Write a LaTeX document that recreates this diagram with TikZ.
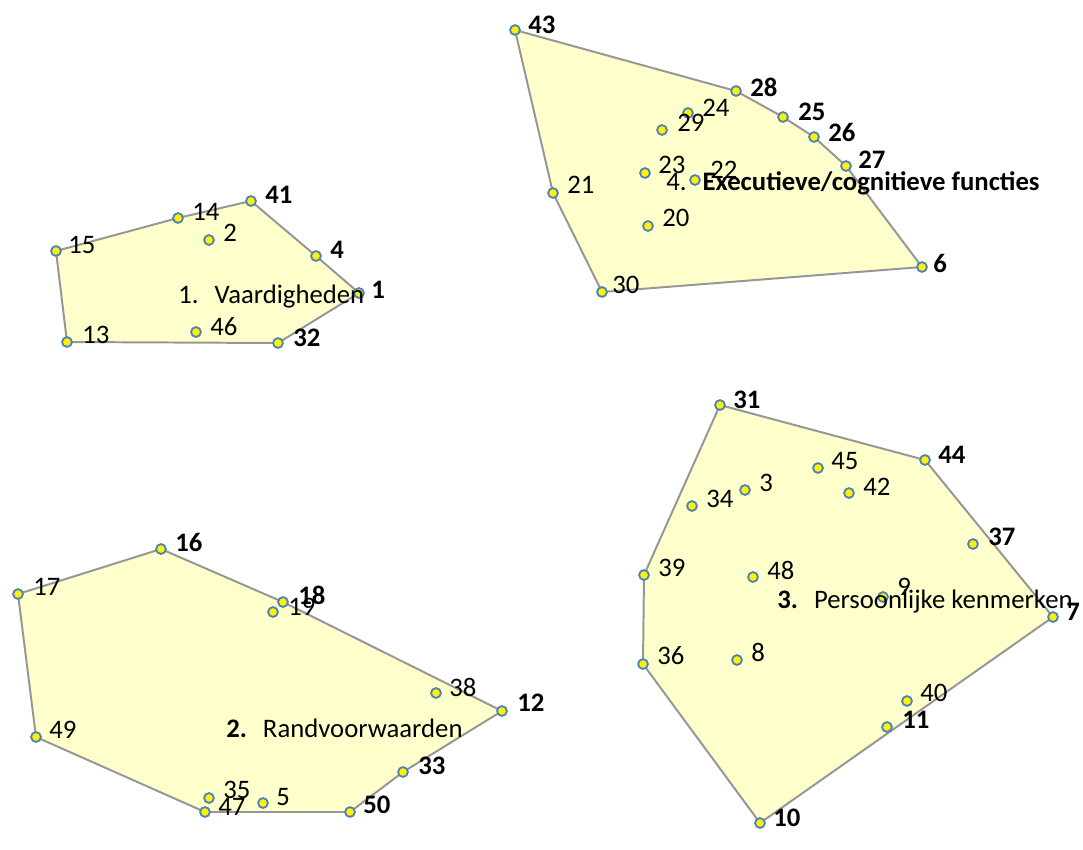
\documentclass[tikz,border=0pt]{standalone}
\usepackage{fontspec}
\setmainfont{Carlito}
\usepackage{tikz}
\usetikzlibrary{backgrounds}
\definecolor{dotblue}{RGB}{79,129,189}
\definecolor{areafill}{RGB}{255,255,204}
\definecolor{areaedge}{RGB}{150,150,150}

\begin{document}
\begin{tikzpicture}[x=0.025cm,y=-0.025cm,
                every node/.style={inner sep=0pt},
                pt/.style={circle,draw=dotblue,fill=yellow,line width=1.3pt,minimum size=7pt},
                num/.style={anchor=west,font=\fontsize{19}{21}\selectfont},
                numb/.style={num,font=\fontsize{19}{21}\selectfont\bfseries},
                title/.style={anchor=base west,font=\fontsize{19}{21}\selectfont},
                area/.style={draw=areaedge,fill=areafill,line width=1.4pt,line join=round}]
  \useasboundingbox (0,0) rectangle (1083,849);
  % 1. Vaardigheden
  \node[pt] (p15) at (56,251)  {};
  \node[pt] (p14) at (178,218) {};
  \node[pt] (p41) at (251,201) {};
  \node[pt] (p2)  at (209,240) {};
  \node[pt] (p4)  at (316,256) {};
  \node[pt] (p1)  at (359,293) {};
  \node[pt] (p32) at (278,343) {};
  \node[pt] (p13) at (67,342)  {};
  \node[pt] (p46) at (196,332) {};
  % 4. Executieve/cognitieve functies
  \node[pt] (p43) at (515,30)  {};
  \node[pt] (p28) at (736,91)  {};
  \node[pt] (p25) at (783,117) {};
  \node[pt] (p26) at (814,137) {};
  \node[pt] (p27) at (846,166) {};
  \node[pt] (p6)  at (922,267) {};
  \node[pt] (p30) at (602,292) {};
  \node[pt] (p21) at (553,193) {};
  \node[pt] (p24) at (688,113) {};
  \node[pt] (p29) at (662,130) {};
  \node[pt] (p23) at (645,173) {};
  \node[pt] (p22) at (695,180) {};
  \node[pt] (p20) at (648,226) {};
  % 2. Randvoorwaarden
  \node[pt] (p16) at (161,549) {};
  \node[pt] (p17) at (18,594)  {};
  \node[pt] (p49) at (36,737)  {};
  \node[pt] (p35) at (209,798) {};
  \node[pt] (p47) at (205,812) {};
  \node[pt] (p5)  at (263,803) {};
  \node[pt] (p50) at (350,812) {};
  \node[pt] (p33) at (403,772) {};
  \node[pt] (p12) at (502,711) {};
  \node[pt] (p38) at (436,693) {};
  \node[pt] (p18) at (283,602) {};
  \node[pt] (p19) at (273,612) {};
  % 3. Persoonlijke kenmerken
  \node[pt] (p31) at (720,405)  {};
  \node[pt] (p44) at (925,460)  {};
  \node[pt] (p37) at (973,544)  {};
  \node[pt] (p7)  at (1053,617) {};
  \node[pt] (p40) at (907,701)  {};
  \node[pt] (p11) at (887,727)  {};
  \node[pt] (p10) at (760,823)  {};
  \node[pt] (p36) at (643,664)  {};
  \node[pt] (p39) at (644,575)  {};
  \node[pt] (p34) at (692,506)  {};
  \node[pt] (p3)  at (745,490)  {};
  \node[pt] (p45) at (818,468)  {};
  \node[pt] (p42) at (849,493)  {};
  \node[pt] (p48) at (753,577)  {};
  \node[pt] (p8)  at (737,660)  {};
  \node[pt] (p9)  at (883,597)  {};

  \begin{pgfonlayer}{background}
    \draw[area] (p15.center) -- (p14.center) -- (p41.center) -- (p4.center) -- (p1.center)
                -- (p32.center) -- (p13.center) -- cycle;
    \draw[area] (p43.center) -- (p28.center) -- (p25.center) -- (p26.center) -- (p27.center)
                -- (p6.center) -- (p30.center) -- (p21.center) -- cycle;
    \draw[area] (p16.center) -- (p18.center) -- (p12.center) -- (p33.center) -- (p50.center)
                -- (p47.center) -- (p49.center) -- (p17.center) -- cycle;
    \draw[area] (p31.center) -- (p44.center) -- (p7.center) -- (p10.center) -- (p36.center)
                -- (p39.center) -- cycle;
  \end{pgfonlayer}

  % numbers
  \node[num]  (l15) at (68,245)  {15};
  \node[num]  (l14) at (192,212) {14};
  \node[numb] (l41) at (265,195) {41};
  \node[num]  (l2)  at (223,233) {2};
  \node[numb] (l4)  at (330,250) {4};
  \node[numb] (l1)  at (371,290) {1};
  \node[numb] (l32) at (293,338) {32};
  \node[num]  (l13) at (82,335)  {13};
  \node[num]  (l46) at (210,327) {46};

  \node[numb] (l43) at (528,25)  {43};
  \node[numb] (l28) at (750,87)  {28};
  \node[numb] (l25) at (798,112) {25};
  \node[numb] (l26) at (828,132) {26};
  \node[numb] (l27) at (858,160) {27};
  \node[numb] (l6)  at (933,263) {6};
  \node[num]  (l30) at (612,285) {30};
  \node[num]  (l21) at (567,185) {21};
  \node[num]  (l24) at (702,108) {24};
  \node[num]  (l29) at (677,123) {29};
  \node[num]  (l23) at (658,165) {23};
  \node[num]  (l22) at (710,170) {22};
  \node[num]  (l20) at (662,218) {20};

  \node[numb] (l16) at (175,542) {16};
  \node[num]  (l17) at (33,587)  {17};
  \node[num]  (l49) at (49,730)  {49};
  \node[num]  (l35) at (223,790) {35};
  \node[num]  (l47) at (218,807) {47};
  \node[num]  (l5)  at (276,797) {5};
  \node[numb] (l50) at (363,805) {50};
  \node[numb] (l33) at (418,766) {33};
  \node[numb] (l12) at (517,703) {12};
  \node[num]  (l38) at (449,687) {38};
  \node[numb] (l18) at (298,595) {18};
  \node[num]  (l19) at (288,607) {19};

  \node[numb] (l31) at (733,400)  {31};
  \node[numb] (l44) at (938,455)  {44};
  \node[numb] (l37) at (988,537)  {37};
  \node[numb] (l7)  at (1066,612) {7};
  \node[num]  (l40) at (920,693)  {40};
  \node[numb] (l11) at (902,720)  {11};
  \node[numb] (l10) at (773,818)  {10};
  \node[num]  (l36) at (657,656)  {36};
  \node[num]  (l39) at (658,568)  {39};
  \node[num]  (l34) at (706,499)  {34};
  \node[num]  (l3)  at (759,483)  {3};
  \node[num]  (l45) at (831,461)  {45};
  \node[num]  (l42) at (863,487)  {42};
  \node[num]  (l48) at (767,570)  {48};
  \node[num]  (l8)  at (751,652)  {8};
  \node[num]  (l9)  at (897,587)  {9};

  % area names
  \node[title] (t1) at (178,303) {1.\hspace{0.6em}Vaardigheden};
  \node[title] (t4) at (666,190) {4.\hspace{0.6em}\textbf{Executieve/cognitieve functies}};
  \node[title] (t2) at (226,737) {\textbf{2.}\hspace{0.6em}Randvoorwaarden};
  \node[title] (t3) at (777,608) {\textbf{3.}\hspace{0.6em}Persoonlijke kenmerken};
\end{tikzpicture}
\end{document}
